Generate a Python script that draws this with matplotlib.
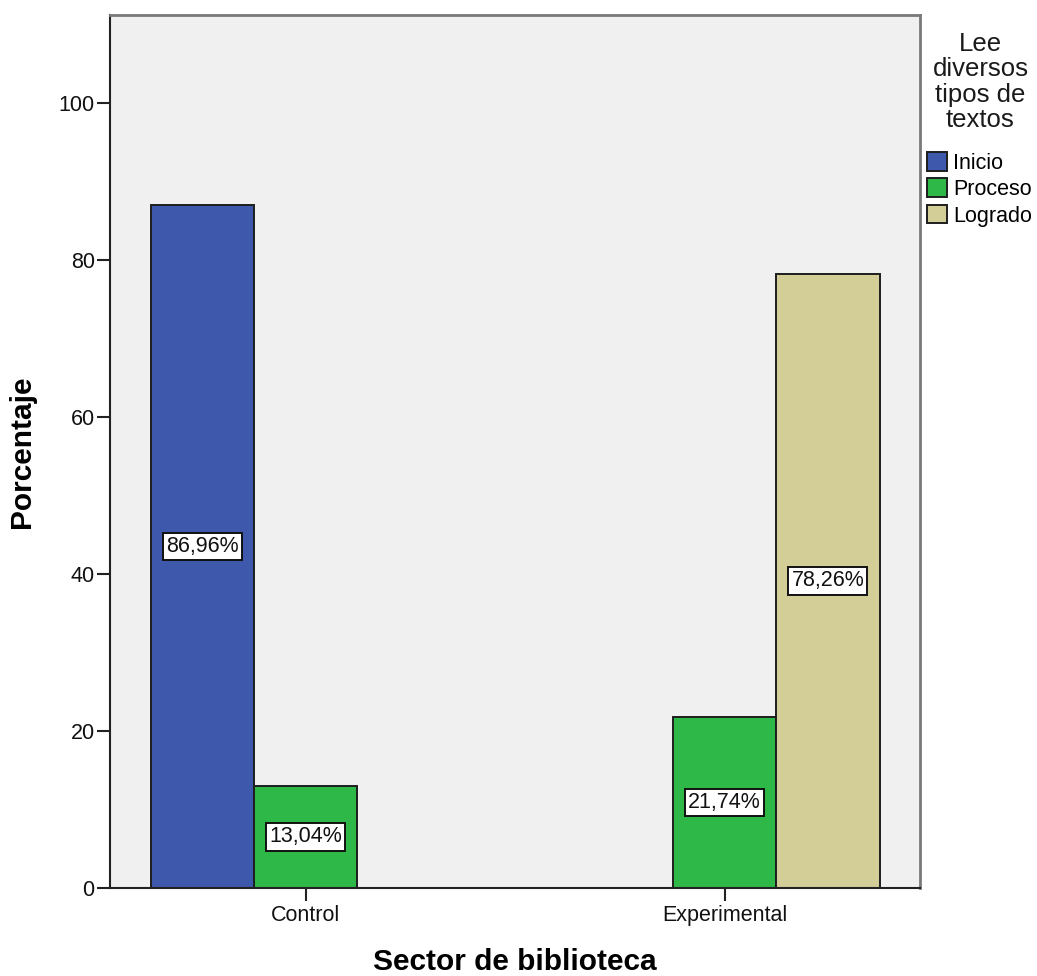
import matplotlib
matplotlib.use('Agg')
import numpy as np
from matplotlib import pyplot as plt
from matplotlib.patches import Patch

plt.rcParams['font.family'] = ['Liberation Sans', 'DejaVu Sans']

# datos
grupos = ['Control', 'Experimental']
niveles = ['Inicio', 'Proceso', 'Logrado']
inicio = [86.96, 0]
proceso = [13.04, 21.74]
logrado = [0, 78.26]
colores = ['#3E58AC', '#2EB848', '#D3CE97']
yticks = [0, 20, 40, 60, 80, 100]
titulo_leyenda = 'Lee\ndiversos\ntipos de\ntextos'

valores = [inicio, proceso, logrado]

fig = plt.figure(figsize=(10.37, 9.76), dpi=100)
ax = fig.add_axes([0.1061, 0.0902, 0.7811, 0.8944])
ax.set_facecolor('#F0F0F0')

x = np.arange(len(grupos))
w = 0.2466
for i, (serie, color) in enumerate(zip(valores, colores)):
    for j, v in enumerate(serie):
        if v == 0:
            continue
        xpos = x[j] + (i - 1) * w
        ax.bar(xpos, v, width=w, color=color, edgecolor='#1E1E1E', linewidth=1.4, zorder=2)
        ax.text(xpos, v / 2, f'{v:.2f}%'.replace('.', ','), ha='center', va='center',
                fontsize=15.5, color='#111111', zorder=3,
                bbox=dict(boxstyle='square,pad=0.15', facecolor='white', edgecolor='#111111', linewidth=1.4))

ax.set_xlim(-0.4666, 1.4666)
ax.set_ylim(0, 111.2)
ax.set_xticks(x)
ax.set_xticklabels(grupos)
ax.set_yticks(yticks)
ax.tick_params(axis='both', labelsize=15.5, length=9.5, width=1.5, colors='#222222', labelcolor='#111111')
ax.tick_params(axis='y', pad=1.5)
ax.tick_params(axis='x', pad=3)

for s in ['left', 'bottom']:
    ax.spines[s].set_color('#222222')
    ax.spines[s].set_linewidth(1.5)
for s in ['top', 'right']:
    ax.spines[s].set_color('#7A7A7A')
    ax.spines[s].set_linewidth(2)

ax.set_xlabel('Sector de biblioteca', fontsize=21.5, fontweight='bold')
ax.xaxis.set_label_coords(0.5, -0.085)
ax.xaxis.label.set_va('center')
ax.set_ylabel('Porcentaje', fontsize=21.5, fontweight='bold')
ax.yaxis.set_label_coords(-0.1086, 0.5)
ax.yaxis.label.set_va('center')

# titulo de la leyenda aparte
fig.text(0.9455, 1 - 32 / 976, titulo_leyenda, ha='center', va='top', fontsize=18.5,
         linespacing=1.07, color='#1A1A1A')

handles = [Patch(facecolor=c, edgecolor='#1E1E1E', linewidth=1.4) for c in colores]
leg = ax.legend(handles, niveles, loc='upper left',
                bbox_to_anchor=(927 / 1037, 1 - 152 / 976), bbox_transform=fig.transFigure, frameon=False,
                fontsize=15.5, handlelength=0.95, handleheight=0.95,
                handletextpad=0.25, labelspacing=0.22, borderpad=0, borderaxespad=0)

fig.savefig('out.png', dpi=100)
